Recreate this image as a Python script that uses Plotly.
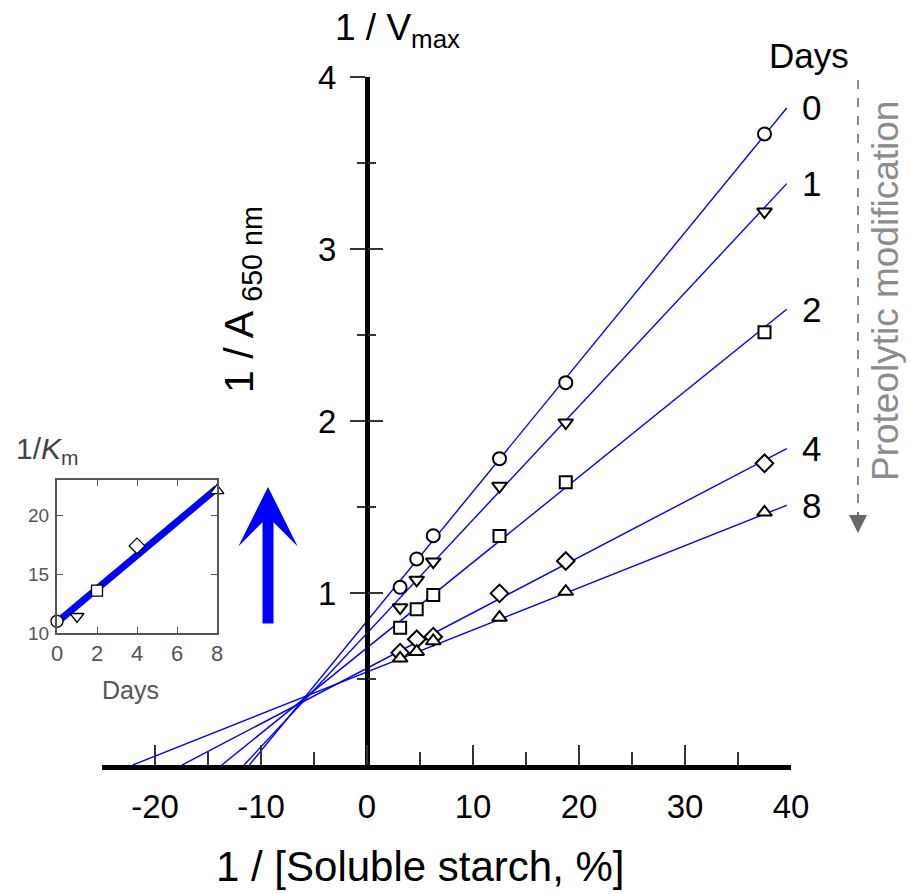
import plotly.graph_objects as go

# ---------------- data ----------------
inv_starch = [3.125, 4.6875, 6.25, 12.5, 18.75, 37.5]
day_labels = ["0", "1", "2", "4", "8"]
inv_a_day0 = [1.033, 1.198, 1.333, 1.781, 2.223, 3.669]
inv_a_day1 = [0.915, 1.076, 1.182, 1.622, 1.990, 3.217]
inv_a_day2 = [0.798, 0.905, 0.988, 1.331, 1.644, 2.516]
inv_a_day4 = [0.653, 0.731, 0.746, 0.998, 1.186, 1.754]
inv_a_day8 = [0.620, 0.659, 0.721, 0.857, 1.008, 1.469]
fit_x_intercept = [-11.1, -11.6, -13.7, -17.45, -22.1]
fit_x_end = 39.6
fit_y_end = [3.82, 3.38, 2.65, 1.84, 1.51]

inset_days = [0, 1, 2, 4, 8]
inset_inv_km = [11.0, 11.4, 13.6, 17.4, 22.1]
inset_fit_days = [0, 8]
inset_fit_inv_km = [10.9, 22.3]

x_tick_vals = [-20, -10, 0, 10, 20, 30, 40]
x_minor_vals = [-25, -15, -5, 5, 15, 25, 35]
y_tick_vals = [1, 2, 3, 4]
y_minor_vals = [0.5, 1.5, 2.5, 3.5]

# ---------------- styling ----------------
W, H = 911, 894
FONT = "Arial, Liberation Sans, sans-serif"
symbols = ["circle", "triangle-down", "square", "diamond", "triangle-up"]
sizes = [13, 13, 12, 13.5, 13]
inset_sizes = [12, 12, 11, 12, 12]
series = [inv_a_day0, inv_a_day1, inv_a_day2, inv_a_day4, inv_a_day8]

def px_x(p):
    return p / W

def px_y(p):
    return (H - p) / H

main_x_dom = [px_x(102), px_x(791)]
main_y_dom = [px_y(765), px_y(77)]
yaxis_pos = main_x_dom[0] + (25 / 65) * (main_x_dom[1] - main_x_dom[0])

fig = go.Figure()

# fitted lines
for x0, y1 in zip(fit_x_intercept, fit_y_end):
    fig.add_trace(go.Scatter(x=[x0, fit_x_end], y=[0, y1], mode="lines",
                             line=dict(color="#0000ff", width=1.4),
                             xaxis="x", yaxis="y", hoverinfo="skip"))
# data points
for ys, sym, sz in zip(series, symbols, sizes):
    fig.add_trace(go.Scatter(x=inv_starch, y=ys, mode="markers",
                             marker=dict(symbol=sym, size=sz, color="white",
                                         line=dict(color="black", width=2)),
                             xaxis="x", yaxis="y"))

# inset
fig.add_trace(go.Scatter(x=inset_fit_days, y=inset_fit_inv_km, mode="lines",
                         line=dict(color="#0000ff", width=7),
                         xaxis="x3", yaxis="y3"))
for d, v, sym, sz in zip(inset_days, inset_inv_km, symbols, inset_sizes):
    fig.add_trace(go.Scatter(x=[d], y=[v], mode="markers",
                             marker=dict(symbol=sym, size=sz, color="white",
                                         line=dict(color="black", width=1.3)),
                             xaxis="x3", yaxis="y3", cliponaxis=False))
fig.add_trace(go.Scatter(x=[None], y=[None], xaxis="x", yaxis="y2", showlegend=False))

tick_col = "#333333"
fig.update_layout(
    width=W, height=H, margin=dict(l=0, r=0, t=0, b=0, autoexpand=False),
    paper_bgcolor="white", plot_bgcolor="rgba(0,0,0,0)",
    showlegend=False, font=dict(family=FONT, color="black"),
    xaxis=dict(domain=main_x_dom, range=[-25, 40], anchor="y",
               showline=True, linewidth=5, linecolor="black",
               showgrid=False, zeroline=False,
               ticks="inside", ticklen=20, tickwidth=1.5, tickcolor=tick_col,
               tickmode="array", tickvals=x_tick_vals,
               ticktext=[str(v) for v in x_tick_vals],
               minor=dict(tickmode="array", tickvals=x_minor_vals, ticks="inside",
                          ticklen=13, tickwidth=1.5, tickcolor=tick_col),
               tickfont=dict(size=33, family=FONT), ticklabelstandoff=8),
    yaxis=dict(domain=main_y_dom, range=[0, 4], anchor="free", position=yaxis_pos,
               showline=True, linewidth=5, linecolor="black",
               showgrid=False, zeroline=False,
               ticks="outside", ticklen=15, tickwidth=1.5, tickcolor=tick_col,
               tickmode="array", tickvals=y_tick_vals,
               minor=dict(tickmode="array", tickvals=y_minor_vals, ticks="outside",
                          ticklen=8, tickwidth=1.5, tickcolor=tick_col),
               tickfont=dict(size=33, family=FONT), ticklabelstandoff=7),
    yaxis2=dict(domain=main_y_dom, range=[0, 4], anchor="free", position=yaxis_pos,
                overlaying="y", showline=False, showgrid=False, zeroline=False,
                showticklabels=False,
                ticks="inside", ticklen=15, tickwidth=1.5, tickcolor=tick_col,
                tickmode="array", tickvals=y_tick_vals,
                minor=dict(tickmode="array", tickvals=y_minor_vals, ticks="inside",
                           ticklen=8, tickwidth=1.5, tickcolor=tick_col)),
    xaxis3=dict(domain=[px_x(57), px_x(217)], range=[0, 8], anchor="y3",
                showline=True, mirror="ticks", linewidth=2, linecolor="#555555",
                showgrid=False, zeroline=False,
                ticks="inside", ticklen=6, tickwidth=1.2, tickcolor="#555555",
                tickmode="array", tickvals=[0, 2, 4, 6, 8],
                tickfont=dict(size=22, color="#555555", family=FONT)),
    yaxis3=dict(domain=[px_y(633), px_y(480)], range=[10, 23], anchor="x3",
                showline=True, mirror="ticks", linewidth=2, linecolor="#555555",
                showgrid=False, zeroline=False,
                ticks="inside", ticklen=6, tickwidth=1.2, tickcolor="#555555",
                tickmode="array", tickvals=[10, 15, 20],
                tickfont=dict(size=19, color="#555555", family=FONT),
                ticklabelstandoff=2),
)

def txt(x, y, text, size, color="black", angle=0, xref="paper", yref="paper"):
    return dict(x=x, y=y, xref=xref, yref=yref, text=text, showarrow=False,
                textangle=angle, xanchor="center", yanchor="middle",
                font=dict(size=size, family=FONT, color=color))

ann = []
for lab, y1 in zip(day_labels, fit_y_end):
    ann.append(txt(px_x(811), y1, lab, 35, yref="y"))
ann += [
    txt(px_x(809), px_y(55), "Days", 35),
    txt(px_x(885), px_y(291), "Proteolytic modification", 37, "#8c8c8c", -90),
    txt(px_x(420), px_y(866), "1 / [Soluble starch, %]", 42),
    txt(px_x(242), px_y(300), "1 / A <sub>650 nm</sub>", 41, angle=-90),
    txt(px_x(397), px_y(30), "1 / V<sub>max</sub>", 37),
    txt(px_x(47), px_y(450), "1/<i>K</i><sub>m</sub>", 30, "#444444"),
    txt(px_x(130), px_y(690), "Days", 25, "#555555"),
    dict(x=px_x(268), y=px_y(487), xref="paper", yref="paper", text="",
         showarrow=True, ax=0, ay=138, axref="pixel", ayref="pixel",
         arrowhead=3, arrowwidth=11, arrowsize=0.9, arrowcolor="#0000ff",
         standoff=0),
    dict(x=px_x(858), y=px_y(533), xref="paper", yref="paper", text="",
         showarrow=True, ax=0, ay=-22, axref="pixel", ayref="pixel",
         arrowhead=2, arrowwidth=2, arrowsize=1.8, arrowcolor="#666666",
         standoff=0),
]
fig.update_layout(annotations=ann)
fig.add_shape(type="line", xref="paper", yref="paper",
              x0=px_x(858), x1=px_x(858), y0=px_y(80), y1=px_y(515),
              line=dict(color="#666666", width=1.5, dash="dash"))

fig.write_html("out.html")
